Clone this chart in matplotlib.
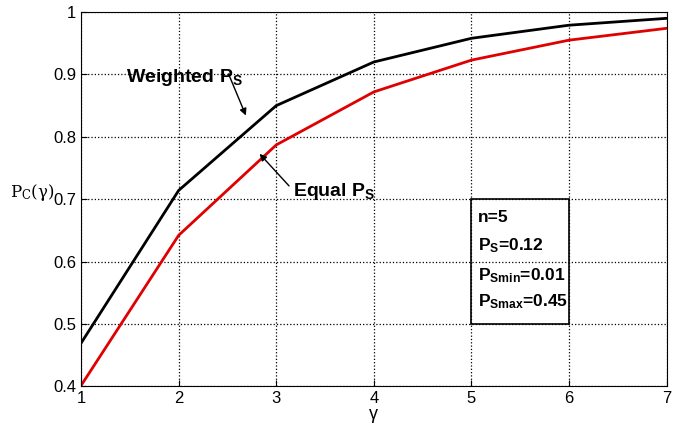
import numpy as np
import matplotlib.pyplot as plt
from matplotlib.patches import Rectangle

plt.rcParams['font.family'] = ['Liberation Sans Narrow', 'Liberation Sans', 'DejaVu Sans']

gamma = [1, 2, 3, 4, 5, 6, 7]
weighted_ps = [0.469, 0.714, 0.850, 0.920, 0.958, 0.979, 0.990]
equal_ps = [0.401, 0.642, 0.787, 0.872, 0.923, 0.955, 0.974]
yticks = [0.4, 0.5, 0.6, 0.7, 0.8, 0.9, 1]
ytick_labels = ['0.4', '0.5', '0.6', '0.7', '0.8', '0.9', '1']
info_lines = ['n=5', '$\\mathregular{P_S}$=0.12', '$\\mathregular{P_{Smin}}$=0.01', '$\\mathregular{P_{Smax}}$=0.45']

fig = plt.figure(figsize=(6.81, 4.32), dpi=100)
ax = fig.add_axes([0.119, 0.106, 0.860, 0.866])

ax.plot(gamma, weighted_ps, color='black', lw=2)
ax.plot(gamma, equal_ps, color='#e00000', lw=2)

ax.set_xlim(1, 7)
ax.set_ylim(0.4, 1)
ax.set_xticks(gamma)
ax.set_yticks(yticks)
ax.set_yticklabels(ytick_labels)
ax.tick_params(labelsize=12, direction='in', length=4)
ax.grid(True, linestyle=':', color='black', lw=0.9)

ax.set_xlabel('γ', fontsize=13, labelpad=0)
ax.set_ylabel('$\\mathregular{P_C}$(γ)', fontsize=12, rotation=0, family='DejaVu Serif')
ax.yaxis.set_label_coords(-0.084, 0.49)

# annotations
ax.annotate('', xy=(2.70, 0.830), xytext=(2.50, 0.905),
            arrowprops=dict(arrowstyle='-|>', color='black', lw=1, mutation_scale=10))
ax.text(1.46, 0.895, 'Weighted $\\mathregular{P_S}$', fontsize=14, fontweight='bold', va='center')
ax.annotate('', xy=(2.81, 0.776), xytext=(3.15, 0.718),
            arrowprops=dict(arrowstyle='-|>', color='black', lw=1, mutation_scale=10))
ax.text(3.17, 0.712, 'Equal $\\mathregular{P_S}$', fontsize=14, fontweight='bold', va='center')

# info box
ax.add_patch(Rectangle((5, 0.5), 1, 0.2, fill=False, edgecolor='black', lw=1.2, zorder=3))
ys = [0.67, 0.626, 0.578, 0.535]
for yy, s in zip(ys, info_lines):
    ax.text(5.07, yy, s, fontsize=12.5, fontweight='bold', va='center')

fig.savefig('out.png', dpi=100)
